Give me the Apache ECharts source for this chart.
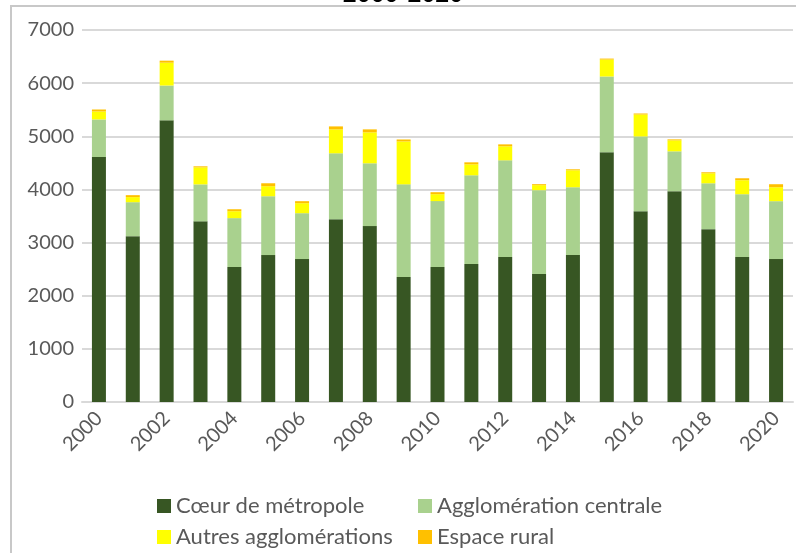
<!DOCTYPE html>
<html>
<head>
<meta charset="utf-8">
<script src="https://cdn.jsdelivr.net/npm/echarts@6/dist/echarts.min.js"></script>
<style>
html,body{margin:0;padding:0;background:#fff;}
#chart{width:796px;height:553px;}
</style>
</head>
<body>
<div id="chart"></div>
<script>
const years = ['2000','2001','2002','2003','2004','2005','2006','2007','2008','2009','2010','2011','2012','2013','2014','2015','2016','2017','2018','2019','2020'];
const coeur = [4610,3120,5300,3400,2540,2765,2690,3440,3310,2350,2540,2596,2728,2410,2765,4700,3590,3966,3253,2728,2690];
const agglo = [707,640,655,695,920,1107,863,1240,1182,1746,1240,1670,1820,1576,1276,1425,1407,751,863,1182,1089];
const autres = [150,95,430,320,130,188,188,450,582,807,130,206,263,94,319,319,413,206,188,263,262];
const rural = [37,37,38,20,37,56,38,56,56,37,38,38,37,19,19,18,19,19,19,37,57];
const yTicks = [0,1000,2000,3000,4000,5000,6000,7000];
const seriesNames = ['Cœur de métropole','Agglomération centrale','Autres agglomérations','Espace rural'];
const colors = ['#375623','#a9d18e','#ffff00','#ffc000'];
const titleText = '2000-2020';

const chart = echarts.init(document.getElementById('chart'), null, {renderer:'canvas'});
const FONT = 'Lato, "Open Sans", sans-serif';
const dataSets = [coeur, agglo, autres, rural];

chart.setOption({
  animation:false,
  backgroundColor:'#ffffff',
  graphic:[
    {type:'rect', shape:{x:11,y:6,width:820,height:580}, style:{fill:'none',stroke:'#c8c8c8',lineWidth:2}, z:0},
    {type:'text', x:403, y:6, style:{text:titleText, fill:'#000', font:'bold 24px '+FONT, align:'center', verticalAlign:'bottom'}, z:10}
  ],
  grid:{left:82,right:3,top:30,bottom:151,containLabel:false},
  legend:[
    {orient:'vertical', left:152, top:489, height:120, itemWidth:14, itemHeight:14, itemGap:7, icon:'rect',
     data:[seriesNames[0],seriesNames[2]],
     textStyle:{color:'#595959', fontSize:22, fontFamily:FONT, lineHeight:24}},
    {orient:'vertical', left:413, top:489, height:120, itemWidth:14, itemHeight:14, itemGap:7, icon:'rect',
     data:[seriesNames[1],seriesNames[3]],
     textStyle:{color:'#595959', fontSize:22, fontFamily:FONT, lineHeight:24}}
  ],
  xAxis:{
    type:'category', data:years,
    axisLine:{show:true, lineStyle:{color:'#d9d9d9', width:2}},
    axisTick:{show:false},
    axisLabel:{rotate:45, interval:1, color:'#595959', fontSize:20, fontFamily:FONT, margin:13}
  },
  yAxis:{
    type:'value', min:yTicks[0], max:yTicks[yTicks.length-1], interval:1000,
    axisLine:{show:false}, axisTick:{show:false},
    splitLine:{lineStyle:{color:'#d9d9d9', width:2}},
    axisLabel:{color:'#595959', fontSize:20, fontFamily:FONT, margin:8, formatter:v=>String(v)}
  },
  series: seriesNames.map((n,i)=>({
    name:n, type:'bar', stack:'total', data:dataSets[i], barWidth:14,
    itemStyle:{color:colors[i]}
  }))
});
</script>
</body>
</html>
